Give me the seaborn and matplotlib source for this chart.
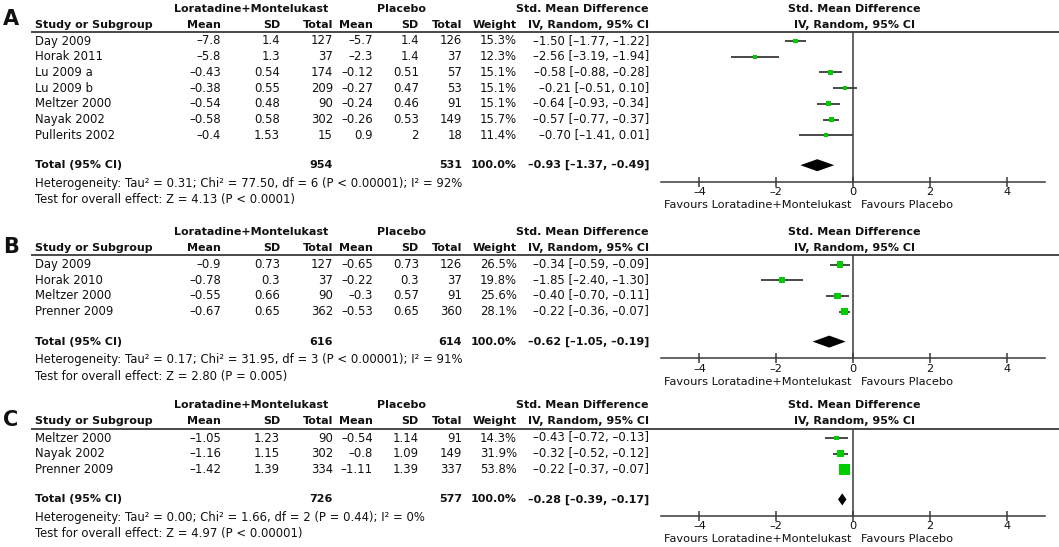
import matplotlib
matplotlib.use("Agg")
import matplotlib.pyplot as plt
import numpy as np
import pandas as pd
import seaborn as sns

# ---- data: panel A
a_study = ["Day 2009", "Horak 2011", "Lu 2009 a", "Lu 2009 b", "Meltzer 2000", "Nayak 2002", "Pullerits 2002"]
a_lm_mean = [-7.8, -5.8, -0.43, -0.38, -0.54, -0.58, -0.4]
a_lm_sd = [1.4, 1.3, 0.54, 0.55, 0.48, 0.58, 1.53]
a_lm_n = [127, 37, 174, 209, 90, 302, 15]
a_pl_mean = [-5.7, -2.3, -0.12, -0.27, -0.24, -0.26, 0.9]
a_pl_sd = [1.4, 1.4, 0.51, 0.47, 0.46, 0.53, 2]
a_pl_n = [126, 37, 57, 53, 91, 149, 18]
a_weight = [15.3, 12.3, 15.1, 15.1, 15.1, 15.7, 11.4]
a_smd = [-1.50, -2.56, -0.58, -0.21, -0.64, -0.57, -0.70]
a_lo = [-1.77, -3.19, -0.88, -0.51, -0.93, -0.77, -1.41]
a_hi = [-1.22, -1.94, -0.28, 0.10, -0.34, -0.37, 0.01]
a_total = [954, 531, -0.93, -1.37, -0.49]
a_het = [0.31, 77.50, 6, "P < 0.00001", 92]
a_test = [4.13, "P < 0.0001"]

# ---- data: panel B
b_study = ["Day 2009", "Horak 2010", "Meltzer 2000", "Prenner 2009"]
b_lm_mean = [-0.9, -0.78, -0.55, -0.67]
b_lm_sd = [0.73, 0.3, 0.66, 0.65]
b_lm_n = [127, 37, 90, 362]
b_pl_mean = [-0.65, -0.22, -0.3, -0.53]
b_pl_sd = [0.73, 0.3, 0.57, 0.65]
b_pl_n = [126, 37, 91, 360]
b_weight = [26.5, 19.8, 25.6, 28.1]
b_smd = [-0.34, -1.85, -0.40, -0.22]
b_lo = [-0.59, -2.40, -0.70, -0.36]
b_hi = [-0.09, -1.30, -0.11, -0.07]
b_total = [616, 614, -0.62, -1.05, -0.19]
b_het = [0.17, 31.95, 3, "P < 0.00001", 91]
b_test = [2.80, "P = 0.005"]

# ---- data: panel C
c_study = ["Meltzer 2000", "Nayak 2002", "Prenner 2009"]
c_lm_mean = [-1.05, -1.16, -1.42]
c_lm_sd = [1.23, 1.15, 1.39]
c_lm_n = [90, 302, 334]
c_pl_mean = [-0.54, -0.8, -1.11]
c_pl_sd = [1.14, 1.09, 1.39]
c_pl_n = [91, 149, 337]
c_weight = [14.3, 31.9, 53.8]
c_smd = [-0.43, -0.32, -0.22]
c_lo = [-0.72, -0.52, -0.37]
c_hi = [-0.13, -0.12, -0.07]
c_total = [726, 577, -0.28, -0.39, -0.17]
c_het = [0.00, 1.66, 2, "P = 0.44", 0]
c_test = [4.97, "P < 0.00001"]

ticks = [-4, -2, 0, 2, 4]
fav_left = "Favours Loratadine+Montelukast"
fav_right = "Favours Placebo"

sns.set_theme(style="white")
plt.rcParams["font.family"] = ["DejaVu Sans"]

W, H = 1059, 547
GREEN = "#00cc00"
INK = "#111111"
LINE = "#3a3a3a"
FS = 8.4    # regular table text
FSB = 8     # bold header text
FSR = 8.2   # right-hand plot text
DASH = "\u2013"  # RevMan-style short minus

fig = plt.figure(figsize=(W / 100, H / 100), dpi=100)
bg = fig.add_axes([0, 0, 1, 1])
bg.set_xlim(0, W)
bg.set_ylim(H, 0)
bg.axis("off")


def num(v):
    return f"{v:g}".replace("-", DASH)


def dec(v):
    return f"{v:.2f}".replace("-", DASH)


def txt(x, y, s, ha="right", bold=False, size=None):
    if size is None:
        size = FSB if bold else FS
    bg.text(x, y, s, ha=ha, va="center", fontsize=size, color=INK,
            fontweight="bold" if bold else "normal")


# column right edges (px)
cols = [221, 280, 333, 373, 419, 462, 517, 649]
ROWH = 15.7
PLOT_L, PLOT_R = 661, 1045


def draw_panel(letter, y0, label_y, df, total, het, test):
    n = len(df)
    line_y = y0 + 24.5
    first = y0 + 34
    total_y = first + (n - 1) * ROWH + 30
    axis_y = total_y + 16.5

    bg.text(3, label_y, letter, ha="left", va="center", fontsize=15,
            fontweight="bold", color=INK)
    # headers
    h1, h2 = y0 + 1.5, y0 + 17.5
    txt(251, h1, "Loratadine+Montelukast", ha="center", bold=True)
    txt(401, h1, "Placebo", ha="center", bold=True)
    txt(cols[7], h1, "Std. Mean Difference", bold=True)
    txt(35, h2, "Study or Subgroup", ha="left", bold=True)
    for x, h in zip(cols, ["Mean", "SD", "Total", "Mean", "SD", "Total", "Weight",
                           "IV, Random, 95% CI"]):
        txt(x, h2, h, bold=True)
    txt((PLOT_L + PLOT_R) / 2 + 1, h1, "Std. Mean Difference", ha="center", bold=True)
    txt((PLOT_L + PLOT_R) / 2 + 1, h2, "IV, Random, 95% CI", ha="center", bold=True)
    bg.plot([31, W], [line_y, line_y], color=LINE, lw=1.3, solid_capstyle="butt")

    # study rows
    for i, r in df.iterrows():
        y = first + i * ROWH
        txt(35, y, r["study"], ha="left")
        vals = [num(r["lm_mean"]), num(r["lm_sd"]), f"{r['lm_n']}",
                num(r["pl_mean"]), num(r["pl_sd"]), f"{r['pl_n']}",
                f"{r['weight']:.1f}%",
                f"{dec(r['smd'])} [{dec(r['lo'])}, {dec(r['hi'])}]"]
        for x, v in zip(cols, vals):
            txt(x, y, v)

    # total row
    txt(35, total_y, "Total (95% CI)", ha="left", bold=True)
    txt(cols[2], total_y, f"{total[0]}", bold=True)
    txt(cols[5], total_y, f"{total[1]}", bold=True)
    txt(cols[6], total_y, "100.0%", bold=True)
    txt(cols[7], total_y, f"{dec(total[2])} [{dec(total[3])}, {dec(total[4])}]", bold=True)
    txt(35, total_y + 18,
        f"Heterogeneity: Tau\u00b2 = {het[0]:.2f}; Chi\u00b2 = {het[1]:.2f}, "
        f"df = {het[2]} ({het[3]}); I\u00b2 = {het[4]}%", ha="left")
    txt(35, total_y + 34.5,
        f"Test for overall effect: Z = {test[0]:.2f} ({test[1]})", ha="left")

    # forest plot axes
    ax = fig.add_axes([PLOT_L / W, 1 - axis_y / H, (PLOT_R - PLOT_L) / W,
                       (axis_y - line_y) / H])
    ax.set_facecolor("none")
    tot_row = (total_y - first) / ROWH
    ax.set_ylim((axis_y - first) / ROWH, -(first - line_y) / ROWH)
    ax.set_xlim(-5, 5)
    ax.axvline(0, color=LINE, lw=1.1, zorder=1)
    ax.hlines(df["row"], df["lo"], df["hi"], color=LINE, lw=1.3, zorder=2)
    # square side in px grows with study weight
    side_px = {w: 2.5 + 0.15 * w for w in df["weight"]}
    sizes = {w: (s * 0.72) ** 2 for w, s in side_px.items()}
    sns.scatterplot(data=df, x="smd", y="row", size="weight", sizes=sizes,
                    marker="s", color=GREEN, edgecolor=GREEN, linewidth=0,
                    legend=False, ax=ax, zorder=3)
    hh = 6 / ROWH
    ax.fill([total[3], total[2], total[4], total[2]],
            [tot_row, tot_row - hh, tot_row, tot_row + hh],
            color="black", lw=0, zorder=3)
    sns.despine(ax=ax, left=True, top=True, right=True)
    ax.spines["bottom"].set_color(LINE)
    ax.spines["bottom"].set_linewidth(1.1)
    ax.set_yticks([])
    ax.set_xticks(ticks)
    ax.set_xticklabels([num(t) for t in ticks])
    ax.tick_params(axis="x", direction="inout", length=7, width=1.1,
                   color=LINE, labelsize=FSR, labelcolor=INK, pad=0.5, bottom=True)
    ax.set_xlabel("")
    ax.set_ylabel("")
    txt(851, axis_y + 23.5, fav_left, ha="right", size=FSR)
    txt(861, axis_y + 23.5, fav_right, ha="left", size=FSR)


def frame(study, lm_mean, lm_sd, lm_n, pl_mean, pl_sd, pl_n, weight, smd, lo, hi):
    df = pd.DataFrame({"study": study, "lm_mean": lm_mean, "lm_sd": lm_sd, "lm_n": lm_n,
                       "pl_mean": pl_mean, "pl_sd": pl_sd, "pl_n": pl_n,
                       "weight": weight, "smd": smd, "lo": lo, "hi": hi})
    df["row"] = np.arange(len(df))
    return df


dfa = frame(a_study, a_lm_mean, a_lm_sd, a_lm_n, a_pl_mean, a_pl_sd, a_pl_n,
            a_weight, a_smd, a_lo, a_hi)
dfb = frame(b_study, b_lm_mean, b_lm_sd, b_lm_n, b_pl_mean, b_pl_sd, b_pl_n,
            b_weight, b_smd, b_lo, b_hi)
dfc = frame(c_study, c_lm_mean, c_lm_sd, c_lm_n, c_pl_mean, c_pl_sd, c_pl_n,
            c_weight, c_smd, c_lo, c_hi)

draw_panel("A", 7, 19, dfa, a_total, a_het, a_test)
draw_panel("B", 230.5, 247, dfb, b_total, b_het, b_test)
draw_panel("C", 404, 420.5, dfc, c_total, c_het, c_test)

fig.savefig("out.png", dpi=100)
